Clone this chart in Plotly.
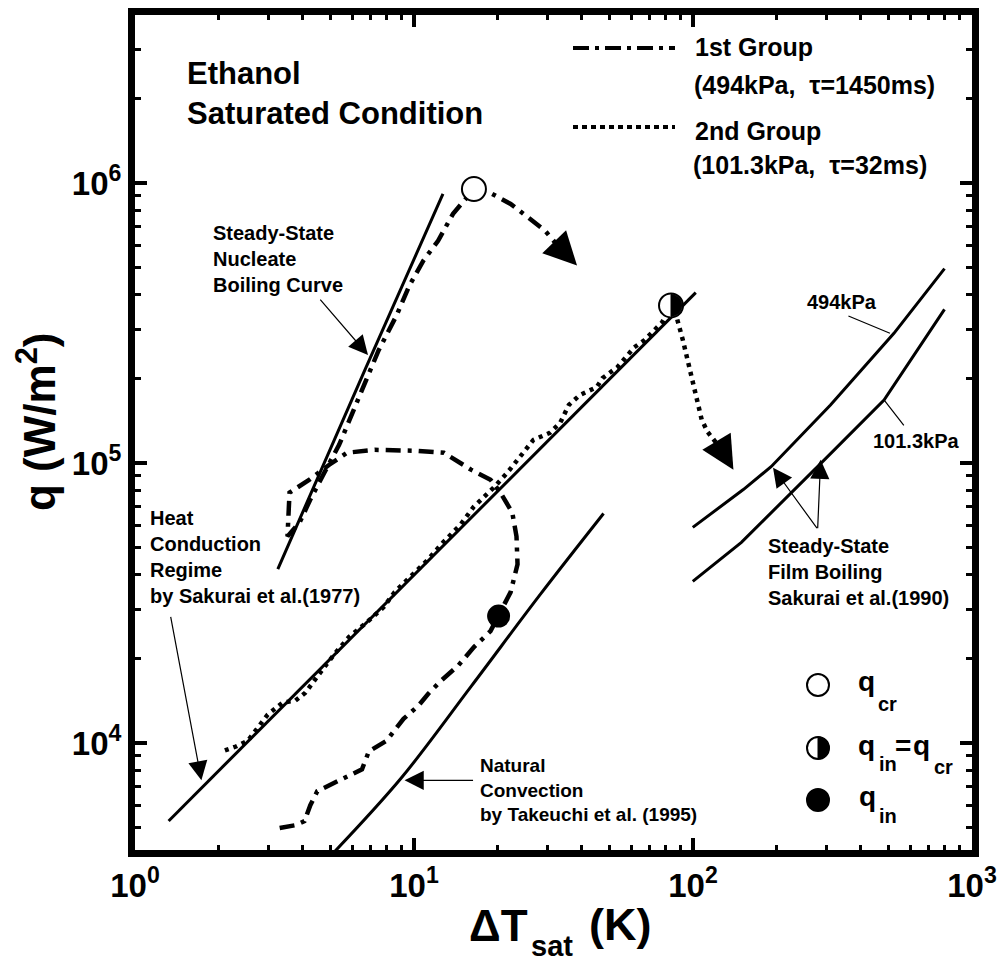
import numpy as np
import plotly.graph_objects as go

# ---------------- data (ΔT_sat in K, q in W/m^2) ----------------
nb_dT = [3.25, 6.67, 12.7]                      # steady-state nucleate boiling
nb_q = [41800, 215000, 914000]
hc_dT = [1.32, 10.0, 102.3]                     # heat conduction regime
hc_q = [5270, 39800, 406000]
nc_dT = [5.2, 9.0, 16.0, 28.4, 47.8]            # natural convection
nc_q = [4100, 7500, 15900, 34000, 66000]
fb494_dT = [99.8, 151.5, 190.5, 311, 525, 797]  # film boiling 494 kPa
fb494_q = [58900, 80400, 97000, 161200, 290500, 494800]
fb101_dT = [99.8, 149.1, 291.4, 483.8, 796.8]   # film boiling 101.3 kPa
fb101_q = [37800, 52100, 101100, 167900, 353600]

g1_dT = [3.30, 3.76, 4.05, 4.25, 4.50, 5.52, 6.51, 6.89, 7.98, 9.17, 10.37, 11.25,
         12.5, 14.4, 16.4, 18.8, 20.1, 22.2, 23.5, 23.3, 22.5, 20.4, 18.8, 16.0,
         12.8, 10.03, 7.23, 5.75, 4.97, 4.22, 3.58, 3.52, 3.89, 4.25, 4.77, 5.39,
         6.14, 6.89, 7.47, 8.66, 9.63, 10.8, 12.2, 13.8, 15.1, 16.4, 18.8, 22.2,
         25.5, 29.5, 32.8]
g1_q = [4970, 5090, 5260, 6000, 6730, 7420, 8060, 9340, 10200, 12200, 13600, 15000,
        16700, 18900, 22000, 25100, 28400, 34600, 43500, 54700, 66600, 78400, 87200, 94700,
        108800, 110600, 111500, 108800, 98600, 87200, 78400, 54700, 61300, 74100, 92400, 116100,
        158500, 209400, 252800, 336700, 430300, 528000, 622000, 776000, 863000, 952000, 921000, 842000,
        757000, 675000, 597000]
g1_tip = (38.4, 507000)

g2_dT = [2.10, 2.30, 2.54, 2.71, 2.99, 3.38, 3.76, 4.08, 4.43, 4.81, 5.30, 5.85, 6.67,
         7.79, 8.52, 9.95, 11.25, 12.72, 14.7, 16.4, 19.3, 21.6, 24.1, 26.8, 30.7, 33.4,
         35.9, 39.3, 45.2, 47.4, 53.6, 57.7, 61.6, 66.9, 71.4, 77.5, 83.4, 87.6, 92.0,
         95.8, 99.8, 104, 107.5, 112.8, 120.4, 126.6]
g2_q = [9410, 9720, 10200, 11080, 12640, 13940, 14170, 15130, 16970, 18870, 21340, 23920, 26620,
        30590, 34580, 40080, 45320, 52070, 60340, 69920, 81700, 92350, 105300, 121000, 128200, 139100,
        161200, 174900, 186700, 201000, 220000, 238700, 259000, 274400, 292900, 317900, 365400, 328500, 274400,
        232900, 189800, 161200, 142500, 129200, 118100, 111500]
g2_tip = (139.6, 94700)

qcr_dT, qcr_q = [16.4], [952000]
qeq_dT, qeq_q = [83.4], [365400]
qin_dT, qin_q = [20.1], [28400]

x_tickvals = [1, 10, 100, 1000]
x_ticktext = ["10<sup>0</sup>", "10<sup>1</sup>", "10<sup>2</sup>", "10<sup>3</sup>"]
y_tickvals = [1e4, 1e5, 1e6]
y_ticktext = ["10<sup>4</sup>", "10<sup>5</sup>", "10<sup>6</sup>"]
x_minor = [m * 10 ** e for e in range(0, 3) for m in range(2, 10)]
y_minor = [m * 10 ** e for e in range(3, 7) for m in range(2, 10)]

# ---------------- layout helpers ----------------
L, R, T, B = 135, 28, 15, 111
W, H = 1000, 961
PW, PH = W - L - R, H - T - B
FONT = "Liberation Sans, Arial, Helvetica, sans-serif"


def px(x):
    return (x - L) / PW


def py(y):
    return (H - B - y) / PH


DASHDOT = "15px,7px,4px,7px"
DOT = "4px,5px"

# right half-disc outline (pixel units) for the "q_in = q_cr" glyph
_th = np.linspace(-np.pi / 2, np.pi / 2, 25)
HALF = "M0,-11 " + " ".join(f"L{11 * np.cos(t):.2f},{11 * np.sin(t):.2f}" for t in _th) + " Z"

fig = go.Figure()
solid = dict(color="black", width=3)
for xs, ys, shp in [(nb_dT, nb_q, "linear"), (hc_dT, hc_q, "linear"), (nc_dT, nc_q, "spline"),
                    (fb494_dT, fb494_q, "linear"), (fb101_dT, fb101_q, "linear")]:
    fig.add_trace(go.Scatter(x=xs, y=ys, mode="lines", line=dict(solid, shape=shp), hoverinfo="skip"))

fig.add_trace(go.Scatter(x=g1_dT, y=g1_q, mode="lines", name="1st Group",
                         line=dict(color="black", width=4.5, dash=DASHDOT)))
fig.add_trace(go.Scatter(x=g2_dT, y=g2_q, mode="lines", name="2nd Group",
                         line=dict(color="black", width=4.5, dash=DOT)))

fig.add_trace(go.Scatter(x=qcr_dT, y=qcr_q, mode="markers",
                         marker=dict(symbol="circle", size=24, color="white", line=dict(color="black", width=2))))
fig.add_trace(go.Scatter(x=qeq_dT, y=qeq_q, mode="markers",
                         marker=dict(symbol="circle", size=24, color="white", line=dict(color="black", width=2))))
fig.add_trace(go.Scatter(x=qin_dT, y=qin_q, mode="markers",
                         marker=dict(symbol="circle", size=23, color="black")))

shapes = []
shapes.append(dict(type="path", xref="x", yref="y", xsizemode="pixel", ysizemode="pixel",
                   xanchor=qeq_dT[0], yanchor=qeq_q[0],
                   path=HALF, fillcolor="black", line=dict(color="black", width=1), layer="above"))
# legend line samples
shapes.append(dict(type="line", xref="paper", yref="paper", x0=px(573), x1=px(675), y0=py(48), y1=py(48),
                   line=dict(color="black", width=4, dash="16px,6px,4px,6px")))
shapes.append(dict(type="line", xref="paper", yref="paper", x0=px(573), x1=px(675), y0=py(127), y1=py(127),
                   line=dict(color="black", width=4, dash="5px,4px")))
# legend marker glyphs
for cy, kind in [(685, "open"), (748, "half"), (800, "full")]:
    fill = "black" if kind == "full" else "white"
    shapes.append(dict(type="circle", xref="paper", yref="paper", xsizemode="pixel", ysizemode="pixel",
                       xanchor=px(818), yanchor=py(cy), x0=-11, x1=11, y0=-11, y1=11,
                       fillcolor=fill, line=dict(color="black", width=2)))
    if kind == "half":
        shapes.append(dict(type="path", xref="paper", yref="paper", xsizemode="pixel", ysizemode="pixel",
                           xanchor=px(818), yanchor=py(cy), path=HALF,
                           fillcolor="black", line=dict(color="black", width=1)))

ann = []


def text(t, x, y, size, xanchor="left", yanchor="middle", angle=0):
    ann.append(dict(text=t, x=px(x), y=py(y), xref="paper", yref="paper", showarrow=False,
                    xanchor=xanchor, yanchor=yanchor, align="left", textangle=angle,
                    font=dict(family=FONT, size=size, color="black", weight="bold")))


def mid(b1, bn, size):
    return (b1 + bn) / 2 - 0.32 * size


text("Ethanol<br>Saturated Condition", 185, mid(83, 123, 31), 31)
text("1st Group", 693, mid(55, 55, 25), 25)
text("(494kPa,  τ=1450ms)", 692, mid(93, 93, 25), 25)
text("2nd Group", 693, mid(139, 139, 25), 25)
text("(101.3kPa,  τ=32ms)", 691, mid(173, 173, 25), 25)
text("Steady-State<br>Nucleate<br>Boiling Curve", 211, mid(240, 290, 20), 20)
text("Heat<br>Conduction<br>Regime<br>by Sakurai et al.(1977)", 148, mid(527, 600, 20), 20)
text("Natural<br>Convection<br>by Takeuchi et al. (1995)", 478, mid(773, 820, 19), 19)
text("494kPa", 805, mid(308, 308, 20), 20)
text("101.3kPa", 871, mid(447, 447, 20), 20)
text("Steady-State<br>Film Boiling<br>Sakurai et al.(1990)", 766, mid(553, 603, 20), 20)

# legend marker labels
text("q", 856, mid(690, 690, 28), 28)
text("cr", 876, mid(710, 710, 20), 20)
text("q", 856, mid(754, 754, 28), 28)
text("in", 877, mid(770, 770, 20), 20)
text("=", 893, mid(754, 754, 28), 28)
text("q", 911, mid(754, 754, 28), 28)
text("cr", 932, mid(773, 773, 20), 20)
text("q", 857, mid(805, 805, 28), 28)
text("in", 877, mid(822, 822, 20), 20)

# axis titles
text("q (W/m<sup>2</sup>)", 36, 422, 44, xanchor="center", angle=-90)
text("ΔT", 467, mid(940, 940, 44), 44)
text("sat", 529, mid(955, 955, 29), 29)
text("(K)", 587, mid(939, 939, 45), 45)


def arrow(xd, yd, axp, ayp, width=1.2, size=3.2):
    ann.append(dict(x=np.log10(xd), y=np.log10(yd), xref="x", yref="y", ax=axp, ay=ayp,
                    axref="pixel", ayref="pixel", text="", showarrow=True, arrowhead=2,
                    arrowsize=size, arrowwidth=width, arrowcolor="black", standoff=0))


def leader(xd, yd, axp, ayp):
    ann.append(dict(x=np.log10(xd), y=np.log10(yd), xref="x", yref="y", ax=axp, ay=ayp,
                    text="", showarrow=True, arrowhead=0, arrowwidth=1.2, arrowcolor="black"))


arrow(6.84, 243000, -49, -57)        # nucleate boiling label
arrow(1.73, 7360, -31, -165)         # heat conduction label
arrow(9.25, 7360, 70, 0)             # natural convection label
arrow(193.6, 96230, 45, 62)          # film boiling label -> 494 kPa
arrow(286.7, 102700, -3, 70)         # film boiling label -> 101.3 kPa
leader(508, 290500, -43, -18)        # 494kPa
leader(483.7, 167900, 21, 27)        # 101.3kPa

# arrowheads at the end of the transient curves
for xs, ys, tip in [(g1_dT, g1_q, g1_tip), (g2_dT, g2_q, g2_tip)]:
    ann.append(dict(x=np.log10(tip[0]), y=np.log10(tip[1]), xref="x", yref="y",
                    ax=np.log10(xs[-1]), ay=np.log10(ys[-1]), axref="x", ayref="y",
                    text="", showarrow=True, arrowhead=2, arrowsize=2.2, arrowwidth=3,
                    arrowcolor="black", standoff=0))

axis_common = dict(showline=True, linewidth=7, linecolor="black", mirror="ticks", ticks="inside",
                   ticklen=12, tickwidth=3.5, tickcolor="black", showgrid=False, zeroline=False,
                   automargin=False,
                   tickfont=dict(family=FONT, size=33, color="black", weight="bold"))

fig.update_layout(
    width=W, height=H, margin=dict(l=L, r=R, t=T, b=B, pad=0, autoexpand=False),
    plot_bgcolor="white", paper_bgcolor="white", showlegend=False,
    font=dict(family=FONT, color="black"),
    shapes=shapes, annotations=ann,
    xaxis=dict(type="log", range=[0, 3], tickmode="array", tickvals=x_tickvals, ticktext=x_ticktext,
               minor=dict(ticks="inside", ticklen=5, tickwidth=3, tickcolor="black", tickmode="array",
                          tickvals=x_minor, showgrid=False),
               **axis_common),
    yaxis=dict(type="log", range=[np.log10(4150), np.log10(3.98e6)], tickmode="array",
               tickvals=y_tickvals, ticktext=y_ticktext,
               minor=dict(ticks="inside", ticklen=6, tickwidth=3, tickcolor="black", tickmode="array",
                          tickvals=y_minor, showgrid=False),
               **axis_common),
)

fig.write_html("out.html", config={"displayModeBar": False},
               post_script="document.body.style.margin='0';document.body.style.overflow='hidden';")
